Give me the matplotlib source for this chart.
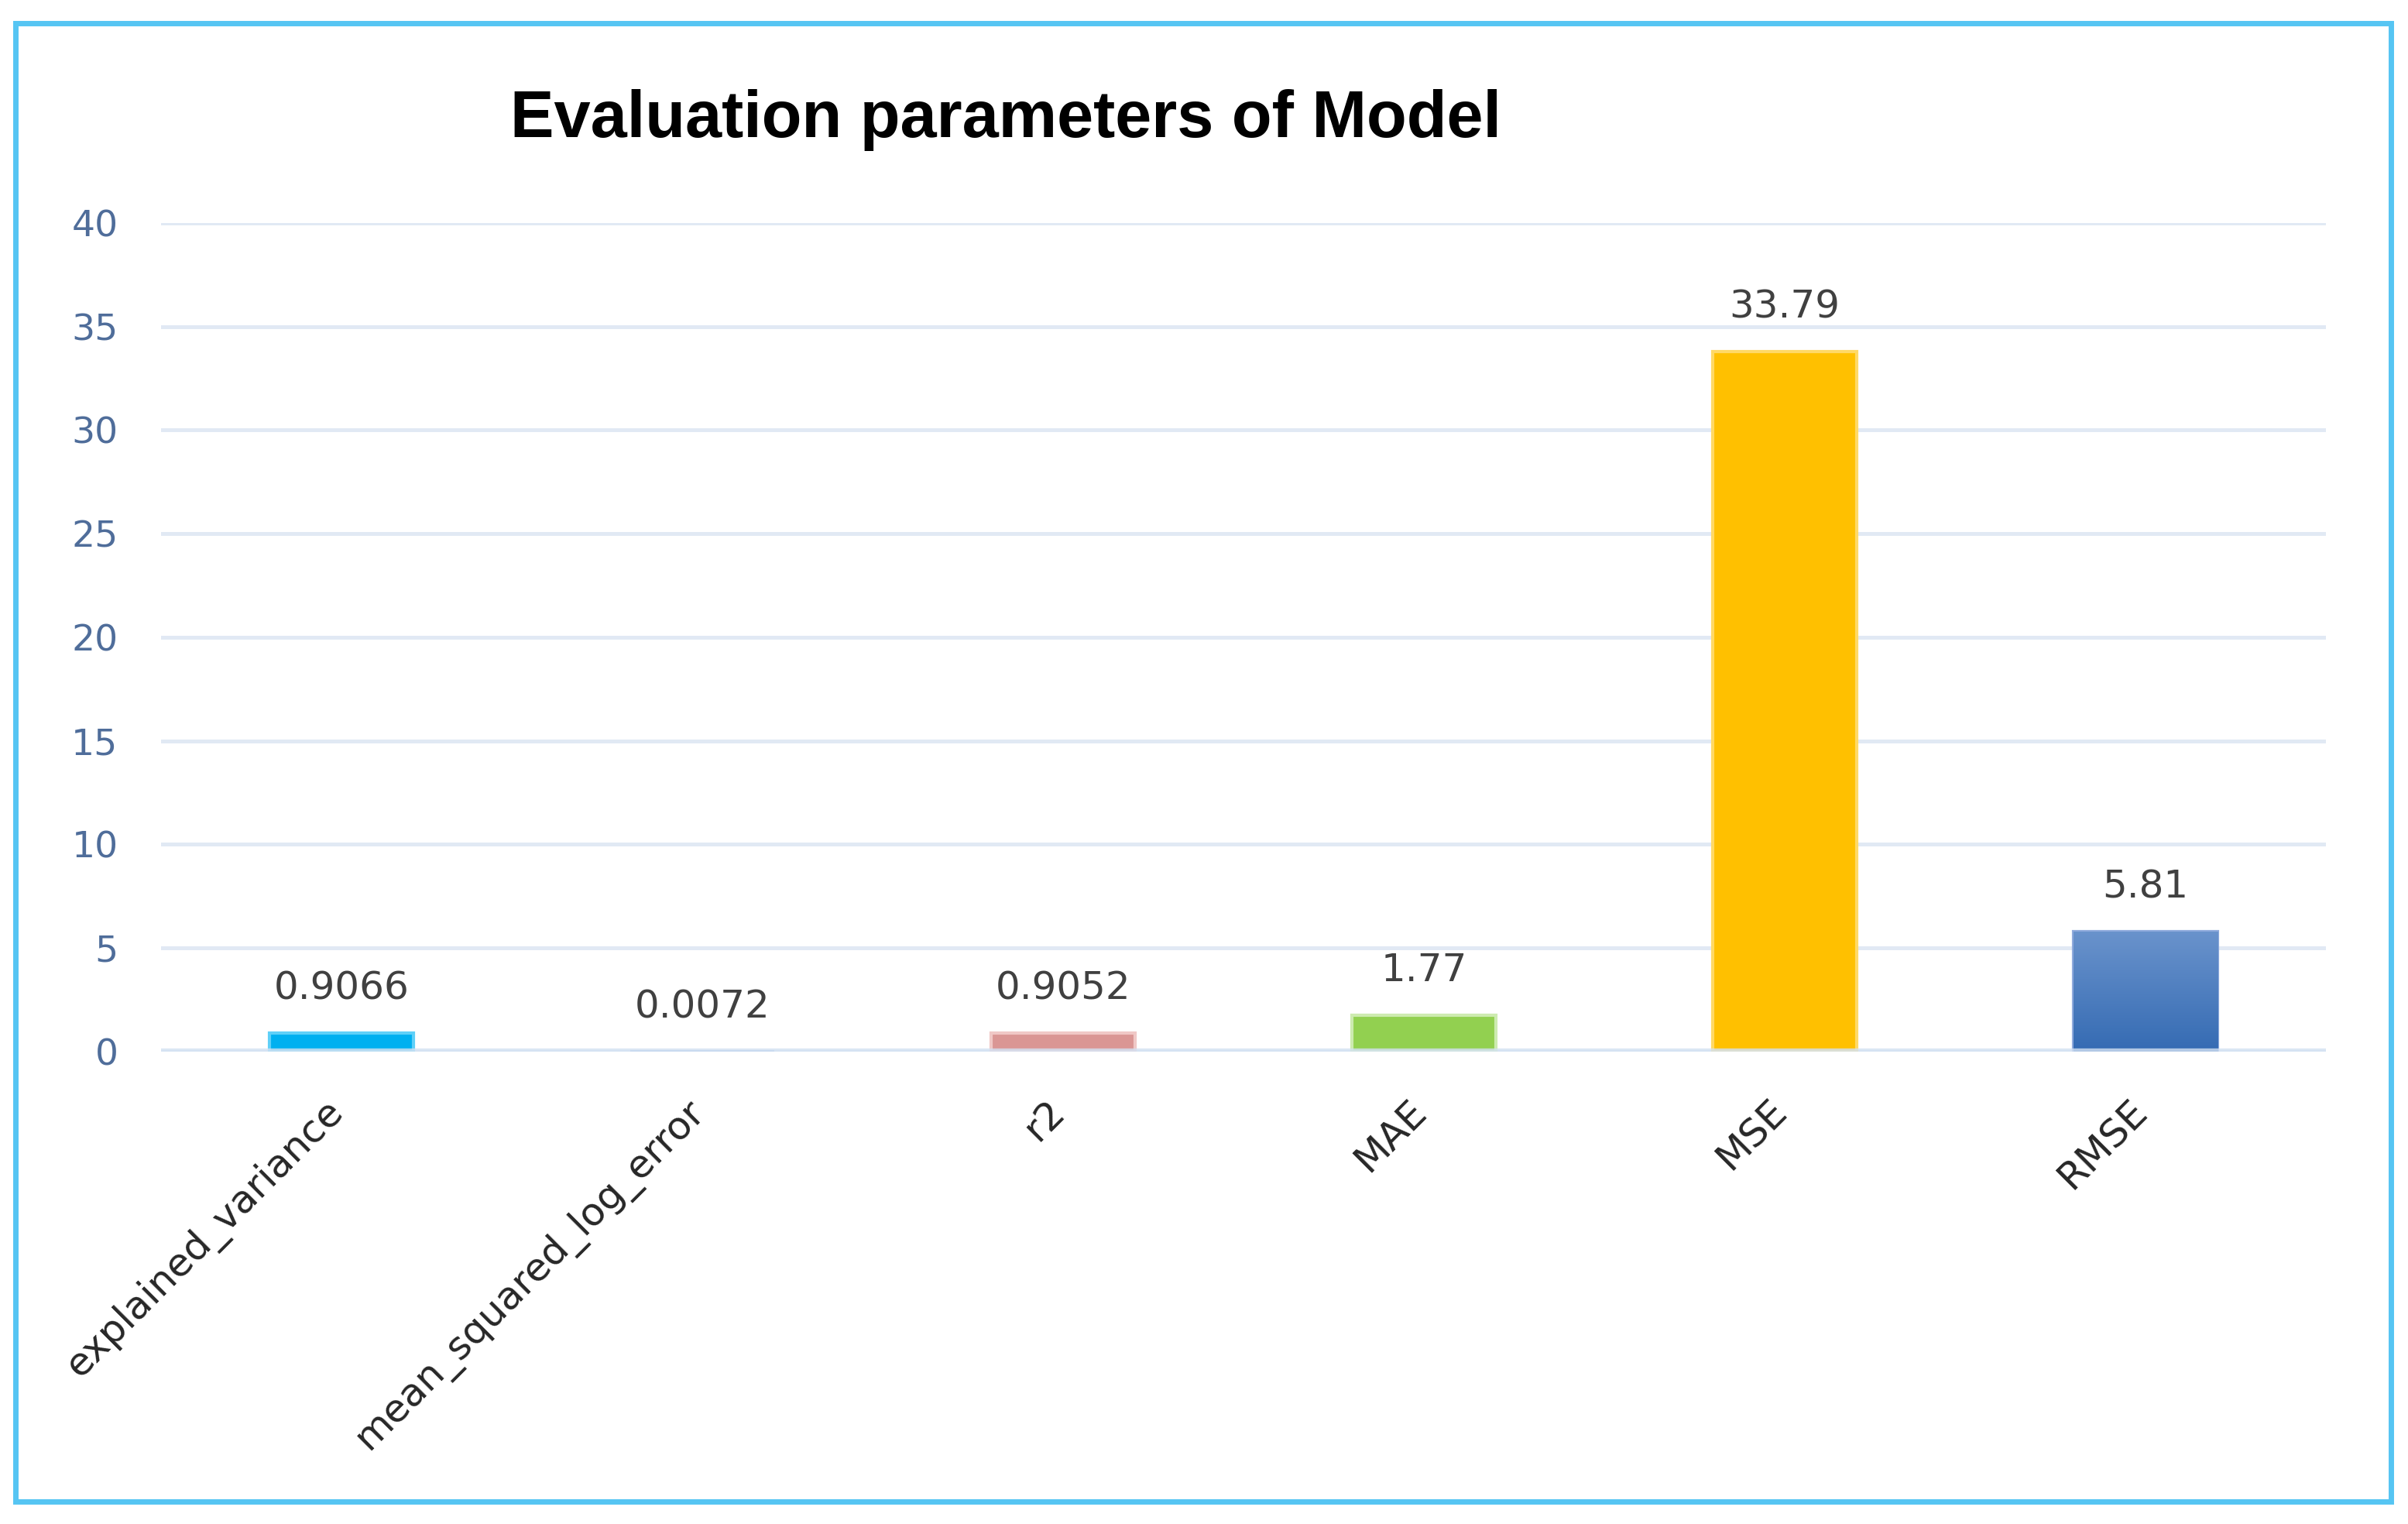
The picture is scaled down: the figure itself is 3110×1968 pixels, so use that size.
import matplotlib
matplotlib.use("Agg")
import matplotlib.pyplot as plt
import matplotlib.transforms as mtransforms
import numpy as np
from matplotlib.patches import Rectangle
from matplotlib.colors import LinearSegmentedColormap

categories = ["explained_variance", "mean_squared_log_error", "r2", "MAE", "MSE", "RMSE"]
values = [0.9066, 0.0072, 0.9052, 1.77, 33.79, 5.81]
value_labels = ["0.9066", "0.0072", "0.9052", "1.77", "33.79", "5.81"]
bar_colors = ["#00B0F0", "#5B9BD5", "#DA9694", "#92D050", "#FFC000", "#4472C4"]
edge_colors = ["#5FD0F8", "#9DC3E6", "#F0C8C6", "#CDEBB0", "#FFD966", "#8FAADC"]
yticks = [0, 5, 10, 15, 20, 25, 30, 35, 40]

plt.rcParams['font.family'] = ['DejaVu Sans']

fig = plt.figure(figsize=(15.55, 9.84), dpi=200)
fig.patch.set_facecolor("white")

ax = fig.add_axes([0.0669, 0.310, 0.8991, 0.5437])
x = np.arange(len(categories))
bars = ax.bar(x, values, width=0.4, color=bar_colors, edgecolor=edge_colors,
              linewidth=1.5, zorder=2)

# gradient for RMSE bar
rm = bars[5]
x0, y0 = rm.get_x(), rm.get_y()
w, h = rm.get_width(), rm.get_height()
grad = np.linspace(0, 1, 256).reshape(-1, 1)
cmap = LinearSegmentedColormap.from_list("g", ["#356BB3", "#6A93CC"])
rm.set_facecolor("none")
im = ax.imshow(grad, extent=[x0, x0 + w, y0, y0 + h], origin="lower", cmap=cmap,
               aspect="auto", zorder=2.1)
im.set_clip_path(rm)

ax.set_xlim(-0.5, len(categories) - 0.5)
ax.set_ylim(0, 40)
ax.set_yticks(yticks)
ax.set_yticklabels([str(t) for t in yticks], fontsize=17, color="#4F6D9A")
ax.tick_params(axis="y", length=0, pad=20)
ax.tick_params(axis="x", length=0, pad=19)
ax.yaxis.grid(True, color="#E1E9F4", linewidth=1.8, zorder=0)
ax.set_axisbelow(True)
for s in ax.spines.values():
    s.set_visible(False)
ax.axhline(0, color="#D3E1F2", linewidth=3, alpha=0.8, zorder=3)

ax.set_xticks(x)
ax.set_xticklabels(categories, rotation=45, ha="right", va="top",
                   rotation_mode="anchor", fontsize=18, color="#262626")
offset = mtransforms.ScaledTranslation(-8 / 72, 0, fig.dpi_scale_trans)
for lab in ax.get_xticklabels():
    lab.set_transform(lab.get_transform() + offset)

for xi, v, lab in zip(x, values, value_labels):
    ax.annotate(lab, (xi, v), xytext=(0, 12), textcoords="offset points",
                ha="center", va="bottom", fontsize=18, color="#404040")

fig.text(0.4177, 0.921, "Evaluation parameters of Model", ha="center", va="center",
         fontsize=30.5, fontweight="bold", color="black", family="Liberation Sans")

frame = Rectangle((0.0064, 0.0145), 0.9866, 0.9705, transform=fig.transFigure,
                  fill=False, edgecolor="#56C5F3", linewidth=2.5)
fig.patches.append(frame)

fig.savefig("out.png", dpi=200, facecolor="white")
